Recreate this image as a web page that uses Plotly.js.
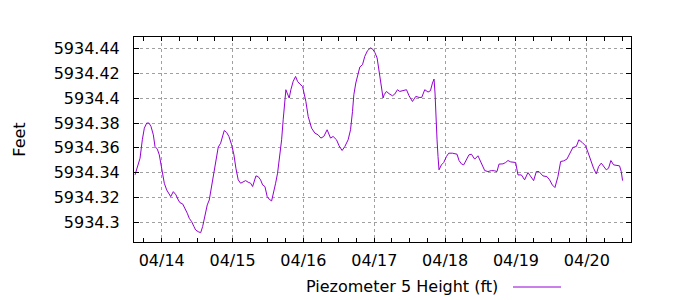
<!DOCTYPE html>
<html>
<head>
<meta charset="utf-8">
<script src="https://cdn.plot.ly/plotly-3.0.1.min.js"></script>
<style>html,body{margin:0;padding:0;background:#fff;}#chart{width:700px;height:300px;}</style>
</head>
<body>
<div id="chart"></div>
<script>
const seriesName = "Piezometer 5 Height (ft)";
const yTitle = "Feet";
const times = [
"2015-04-13 14:58","2015-04-13 15:45","2015-04-13 16:40","2015-04-13 17:26","2015-04-13 18:07","2015-04-13 18:55","2015-04-13 19:42","2015-04-13 20:23","2015-04-13 21:10","2015-04-13 21:44","2015-04-13 22:31","2015-04-13 23:11",
"2015-04-14 00:00","2015-04-14 00:53","2015-04-14 01:41","2015-04-14 02:34","2015-04-14 03:03","2015-04-14 03:56","2015-04-14 04:50","2015-04-14 05:37","2015-04-14 06:11","2015-04-14 07:06","2015-04-14 07:53","2015-04-14 08:40","2015-04-14 09:20","2015-04-14 10:09","2015-04-14 10:56","2015-04-14 11:30","2015-04-14 12:23","2015-04-14 13:12","2015-04-14 13:52","2015-04-14 14:39","2015-04-14 15:26","2015-04-14 16:07","2015-04-14 16:55","2015-04-14 17:28","2015-04-14 18:23","2015-04-14 19:09","2015-04-14 19:58","2015-04-14 20:38","2015-04-14 21:11","2015-04-14 22:00","2015-04-14 22:46","2015-04-14 23:41",
"2015-04-15 00:28","2015-04-15 01:08","2015-04-15 01:55","2015-04-15 02:44","2015-04-15 03:37","2015-04-15 04:26","2015-04-15 05:18","2015-04-15 06:07","2015-04-15 06:48","2015-04-15 07:14","2015-04-15 07:55","2015-04-15 08:41","2015-04-15 09:30","2015-04-15 10:11","2015-04-15 10:58","2015-04-15 11:44","2015-04-15 12:25","2015-04-15 13:14","2015-04-15 13:46","2015-04-15 14:35","2015-04-15 15:15","2015-04-15 16:02","2015-04-15 16:37","2015-04-15 17:09","2015-04-15 17:44","2015-04-15 18:04","2015-04-15 18:30","2015-04-15 19:11","2015-04-15 19:45","2015-04-15 20:32","2015-04-15 21:21","2015-04-15 22:01","2015-04-15 22:48","2015-04-15 23:43",
"2015-04-16 00:50","2015-04-16 01:37","2015-04-16 02:46","2015-04-16 03:53","2015-04-16 04:59","2015-04-16 05:55","2015-04-16 06:55","2015-04-16 08:02","2015-04-16 09:11","2015-04-16 10:04","2015-04-16 11:13","2015-04-16 12:06","2015-04-16 13:07","2015-04-16 14:02","2015-04-16 15:09","2015-04-16 15:58","2015-04-16 16:38","2015-04-16 17:05","2015-04-16 17:45","2015-04-16 18:32","2015-04-16 19:07","2015-04-16 20:01","2015-04-16 20:48","2015-04-16 21:43","2015-04-16 22:44","2015-04-16 23:24",
"2015-04-17 00:11","2015-04-17 00:58","2015-04-17 01:38","2015-04-17 02:13","2015-04-17 02:59","2015-04-17 03:20","2015-04-17 04:08","2015-04-17 05:01","2015-04-17 06:10","2015-04-17 06:57","2015-04-17 07:52","2015-04-17 08:38","2015-04-17 09:46","2015-04-17 10:55","2015-04-17 11:47","2015-04-17 12:56","2015-04-17 14:04","2015-04-17 15:10","2015-04-17 16:05","2015-04-17 17:06","2015-04-17 18:13","2015-04-17 19:02","2015-04-17 19:43","2015-04-17 20:15","2015-04-17 20:35","2015-04-17 20:50","2015-04-17 21:16","2015-04-17 21:36","2015-04-17 21:56","2015-04-17 22:45","2015-04-17 23:32",
"2015-04-18 00:27","2015-04-18 01:13","2015-04-18 02:29","2015-04-18 04:02","2015-04-18 04:43","2015-04-18 05:31","2015-04-18 06:18","2015-04-18 07:13","2015-04-18 08:05","2015-04-18 08:55","2015-04-18 10:01","2015-04-18 11:08","2015-04-18 12:17","2015-04-18 13:25","2015-04-18 14:31","2015-04-18 15:41","2015-04-18 16:47","2015-04-18 17:34","2015-04-18 18:15","2015-04-18 19:36","2015-04-18 20:31","2015-04-18 21:17","2015-04-18 22:13","2015-04-18 22:59","2015-04-18 23:54",
"2015-04-19 00:41","2015-04-19 01:50","2015-04-19 02:56","2015-04-19 04:04","2015-04-19 04:52","2015-04-19 05:59","2015-04-19 06:54","2015-04-19 07:47","2015-04-19 09:08","2015-04-19 10:29","2015-04-19 11:24","2015-04-19 12:19","2015-04-19 13:12","2015-04-19 14:13","2015-04-19 15:08","2015-04-19 16:09","2015-04-19 17:15","2015-04-19 18:10","2015-04-19 19:17","2015-04-19 20:26","2015-04-19 21:19","2015-04-19 22:28","2015-04-19 23:35",
"2015-04-20 00:22","2015-04-20 01:31","2015-04-20 02:17","2015-04-20 03:13","2015-04-20 03:59","2015-04-20 04:54","2015-04-20 05:41","2015-04-20 06:35","2015-04-20 07:22","2015-04-20 08:09","2015-04-20 09:04","2015-04-20 09:59","2015-04-20 11:05","2015-04-20 11:40","2015-04-20 12:07"
];
const heights = [
5934.3382,5934.3449,5934.3517,5934.3665,5934.3759,5934.3800,5934.3800,5934.3772,5934.3705,5934.3611,5934.3590,5934.3544,
5934.3423,5934.3315,5934.3261,5934.3226,5934.3207,5934.3247,5934.3221,5934.3180,5934.3158,5934.3148,5934.3113,5934.3073,5934.3032,5934.3005,5934.2965,5934.2938,5934.2924,5934.2916,5934.2965,5934.3059,5934.3140,5934.3180,5934.3288,5934.3382,5934.3503,5934.3606,5934.3638,5934.3692,5934.3740,5934.3724,5934.3692,5934.3625,
5934.3544,5934.3436,5934.3342,5934.3315,5934.3328,5934.3336,5934.3323,5934.3315,5934.3288,5934.3315,5934.3374,5934.3368,5934.3342,5934.3301,5934.3288,5934.3207,5934.3186,5934.3172,5934.3221,5934.3315,5934.3396,5934.3530,5934.3665,5934.3826,5934.3961,5934.4069,5934.4042,5934.4002,5934.4069,5934.4136,5934.4176,5934.4136,5934.4115,5934.4095,
5934.3974,5934.3853,5934.3759,5934.3719,5934.3705,5934.3679,5934.3692,5934.3746,5934.3679,5934.3692,5934.3665,5934.3616,5934.3579,5934.3611,5934.3665,5934.3746,5934.3894,5934.4028,5934.4123,5934.4204,5934.4252,5934.4271,5934.4338,5934.4384,5934.4406,5934.4398,
5934.4370,5934.4325,5934.4230,5934.4123,5934.4002,5934.4028,5934.4055,5934.4037,5934.4020,5934.4034,5934.4069,5934.4055,5934.4063,5934.4069,5934.4020,5934.3974,5934.4015,5934.4007,5934.4007,5934.4069,5934.4050,5934.4061,5934.4123,5934.4155,5934.4042,5934.3853,5934.3665,5934.3530,5934.3423,5934.3463,5934.3482,
5934.3530,5934.3557,5934.3557,5934.3549,5934.3498,5934.3471,5934.3463,5934.3503,5934.3544,5934.3549,5934.3509,5934.3536,5934.3477,5934.3417,5934.3409,5934.3417,5934.3415,5934.3409,5934.3469,5934.3471,5934.3482,5934.3498,5934.3487,5934.3482,5934.3482,
5934.3382,5934.3382,5934.3342,5934.3401,5934.3374,5934.3336,5934.3409,5934.3409,5934.3374,5934.3368,5934.3342,5934.3301,5934.3280,5934.3368,5934.3490,5934.3495,5934.3509,5934.3557,5934.3603,5934.3611,5934.3665,5934.3643,5934.3616,
5934.3566,5934.3482,5934.3436,5934.3390,5934.3449,5934.3477,5934.3455,5934.3423,5934.3436,5934.3498,5934.3463,5934.3457,5934.3455,5934.3409,5934.3336
];
const yTickVals = [5934.30,5934.32,5934.34,5934.36,5934.38,5934.40,5934.42,5934.44];
const yTickText = ["5934.3","5934.32","5934.34","5934.36","5934.38","5934.4","5934.42","5934.44"];

const lineColor = "#9400d3";
const font = {family: "DejaVu Sans, sans-serif", size: 16, color: "#000"};

const trace = {
  x: times, y: heights, type: "scatter", mode: "lines",
  name: seriesName, line: {color: lineColor, width: 1}, showlegend: false
};

const layout = {
  width: 700, height: 300,
  margin: {l: 134, r: 69, t: 37, b: 58, pad: 0},
  paper_bgcolor: "#fff", plot_bgcolor: "#fff",
  font: font,
  showlegend: false,
  xaxis: {
    type: "date",
    range: ["2015-04-13 14:37", "2015-04-20 14:58"],
    tickformat: "%m/%d",
    dtick: 86400000, tick0: "2015-04-14",
    ticks: "inside", ticklen: 4, tickcolor: "#000", tickwidth: 1,
    minor: {dtick: 21600000, ticks: "inside", ticklen: 4, tickcolor: "#000", showgrid: false},
    showline: true, linecolor: "#000", linewidth: 1, mirror: "allticks",
    showgrid: true, gridcolor: "#a0a0a0", griddash: "3px,3px", gridwidth: 1,
    zeroline: false, tickfont: font, ticklabelstandoff: 4, fixedrange: true
  },
  yaxis: {
    range: [5934.2841, 5934.4494],
    tickvals: yTickVals, ticktext: yTickText,
    ticks: "inside", ticklen: 5, tickcolor: "#000", tickwidth: 1,
    showline: true, linecolor: "#000", linewidth: 1, mirror: "allticks",
    showgrid: true, gridcolor: "#a0a0a0", griddash: "3px,3px", gridwidth: 1,
    zeroline: false, tickfont: font, ticklabelstandoff: 10,
    title: {text: yTitle, font: font, standoff: 24},
    automargin: false, fixedrange: true
  },
  annotations: [{
    xref: "paper", yref: "paper", x: (500 - 134) / 497, y: -(286 - 242) / 205,
    xanchor: "right", yanchor: "middle", text: seriesName, showarrow: false, font: font
  }],
  shapes: [{
    type: "line", xref: "paper", yref: "paper",
    x0: (513 - 134) / 497, x1: (561 - 134) / 497,
    y0: -(287 - 242) / 205, y1: -(287 - 242) / 205,
    line: {color: lineColor, width: 1}
  }]
};

Plotly.newPlot("chart", [trace], layout, {staticPlot: true, displayModeBar: false});
</script>
</body>
</html>
